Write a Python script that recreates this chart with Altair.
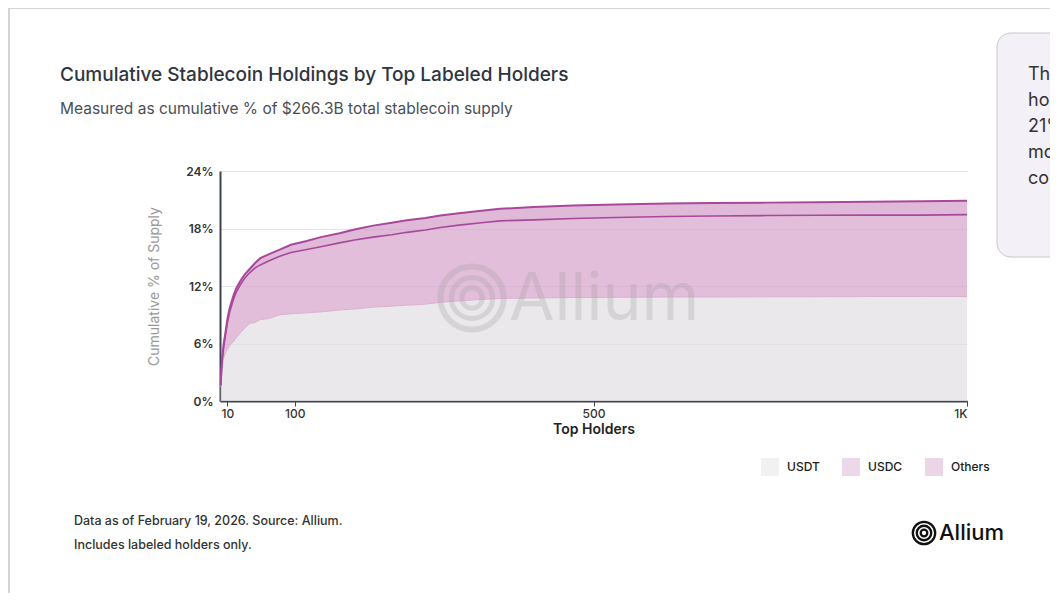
import altair as alt
import pandas as pd

# ---------------- data ----------------
holders = [1, 2, 3, 5, 7, 10, 13, 18, 22, 27, 33, 40, 47, 54, 65, 80, 95, 116, 135,
           160, 180, 205, 230, 250, 275, 295, 320, 350, 375, 420, 473, 530, 598, 660,
           732, 800, 870, 940, 1000]
# cumulative % of supply (stack boundaries)
usdt_top = [1.5, 2.6, 3.6, 4.5, 5.0, 5.4, 5.8, 6.2, 6.6, 7.1, 7.6, 8.1, 8.2, 8.5, 8.6,
            9.0, 9.1, 9.2, 9.3, 9.5, 9.6, 9.8, 9.9, 10.0, 10.1, 10.3, 10.45, 10.6, 10.7,
            10.75, 10.8, 10.82, 10.85, 10.86, 10.87, 10.88, 10.9, 10.9, 10.9]
usdc_top = [1.6, 3.3, 4.3, 5.7, 6.7, 8.2, 9.3, 10.6, 11.4, 12.1, 12.8, 13.4, 13.9, 14.2,
            14.6, 15.1, 15.5, 15.8, 16.1, 16.5, 16.8, 17.1, 17.35, 17.6, 17.85, 18.1,
            18.35, 18.6, 18.8, 18.9, 19.05, 19.15, 19.25, 19.3, 19.35, 19.38, 19.4,
            19.4, 19.45]
others_top = [1.7, 3.5, 4.6, 6.0, 7.0, 8.6, 9.7, 11.0, 11.8, 12.5, 13.2, 13.8, 14.4,
              14.9, 15.3, 15.8, 16.3, 16.7, 17.1, 17.5, 17.9, 18.3, 18.6, 18.85, 19.1,
              19.35, 19.6, 19.85, 20.05, 20.25, 20.4, 20.5, 20.6, 20.65, 20.7, 20.75,
              20.8, 20.85, 20.9]

coins = ["USDT", "USDC", "Others"]
x_ticks = [10, 100, 500, 1000]
y_ticks = [0, 6, 12, 18, 24]

title_text = "Cumulative Stablecoin Holdings by Top Labeled Holders"
subtitle_text = "Measured as cumulative % of $266.3B total stablecoin supply"
foot1 = "Data as of February 19, 2026. Source: Allium."
foot2 = "Includes labeled holders only."
callout_lines = ["Th", "ho", "21%", "mo", "co"]

# ---------------- table ----------------
rows = []
zeros = [0.0] * len(holders)
bounds = {"USDT": (zeros, usdt_top), "USDC": (usdt_top, usdc_top), "Others": (usdc_top, others_top)}
for coin in coins:
    lo, hi = bounds[coin]
    for h, a, b in zip(holders, lo, hi):
        rows.append({"holders": h, "coin": coin, "lo": a, "hi": b})
df = pd.DataFrame(rows)

FONT = "Inter"
W, H = 747, 230

fill_scale = alt.Scale(domain=coins, range=["#e3e0e3", "#d8a8cf", "#d6a2cc"])
line_style = {"USDT": ("#d9b2d2", 1.0), "USDC": ("#a8489c", 1.6), "Others": ("#a8489c", 2.0)}

x_enc = alt.X("holders:Q", scale=alt.Scale(domain=[0, 1000], nice=False),
              axis=alt.Axis(values=x_ticks, title="Top Holders",
                            labelExpr="datum.value == 1000 ? '1K' : datum.label",
                            grid=False, tickSize=5, tickColor="#3d4350", tickWidth=1,
                            domainColor="#3d4350", domainWidth=2, labelPadding=2,
                            labelFontSize=12, labelColor="#333", labelFont=FONT,
                            labelFontWeight=500, titleFont=FONT, titleFontSize=14,
                            titleFontWeight=600, titleColor="#222", titlePadding=3))
y_scale = alt.Scale(domain=[0, 24], nice=False)

areas = alt.Chart(df).mark_area(opacity=0.75, interpolate="linear").encode(
    x=x_enc,
    y=alt.Y("hi:Q", scale=y_scale,
            axis=alt.Axis(values=y_ticks, title="Cumulative % of Supply",
                          labelExpr="datum.value + '%'", grid=True, gridColor="#e4e4e4",
                          tickSize=0, domainColor="#3d4350", domainWidth=2,
                          labelPadding=7, labelFontSize=12, labelColor="#333",
                          labelFont=FONT, labelFontWeight=600, titleFont=FONT,
                          titleFontSize=14, titleFontWeight=400, titleColor="#999",
                          titlePadding=24)),
    y2="lo:Q",
    fill=alt.Fill("coin:N", scale=fill_scale, sort=coins,
                  legend=alt.Legend(title=None, orient="none", legendX=541, legendY=287,
                                    direction="horizontal", symbolType="square",
                                    symbolSize=324, symbolStrokeWidth=0,
                                    symbolStrokeColor="transparent", symbolOpacity=0.45,
                                    labelOffset=8, columnPadding=22, padding=0,
                                    labelFontSize=12, labelFont=FONT, labelFontWeight=500,
                                    labelColor="#222")),
    order=alt.Order("coin:N"),
)

line_layers = []
for coin in coins:
    col, sw = line_style[coin]
    line_layers.append(
        alt.Chart(df).transform_filter(alt.datum.coin == coin)
        .mark_line(interpolate="linear", color=col, strokeWidth=sw)
        .encode(x="holders:Q", y=alt.Y("hi:Q", scale=y_scale))
    )

one = pd.DataFrame({"a": [0]})


def text(t, x, y, size, color, weight=400, align="left", opacity=1.0, line_height=None,
         font=FONT):
    kw = dict(text=t, fontSize=size, color=color, font=font, fontWeight=weight,
              align=align, baseline="middle", opacity=opacity)
    if line_height is not None:
        kw["lineHeight"] = line_height
    return alt.Chart(one).mark_text(**kw).encode(x=alt.value(x), y=alt.value(y))


def ring(x, y, size, sw, color, opacity=1.0):
    return alt.Chart(one).mark_point(shape="circle", filled=False, size=size,
                                     strokeWidth=sw, color=color, opacity=opacity).encode(
        x=alt.value(x), y=alt.value(y))


# watermark
wm_color = "#9a9a9a"
wm = [ring(252, 127, 4000, 6, wm_color, 0.25), ring(252, 127, 1700, 5, wm_color, 0.25),
      ring(252, 127, 420, 5, wm_color, 0.25),
      text("Allium", 289, 129, 66, wm_color, 400, opacity=0.25)]

# logo
logo = [ring(704, 362, 500, 2.3, "#111"), ring(704, 362, 210, 2.3, "#111"),
        ring(704, 362, 44, 2.3, "#111"),
        text("Allium", 719, 362, 22, "#111", 500)]

# callout box (cut by the right edge)
box = alt.Chart(one).mark_rect(fill="#f4f0f7", stroke="#c8c8c8", strokeWidth=1,
                               cornerRadius=14).encode(
    x=alt.value(777), x2=alt.value(880), y=alt.value(-138), y2=alt.value(86))

# card border
border_v = alt.Chart(one).mark_rule(color="#d4d4d4", strokeWidth=2).encode(
    x=alt.value(-211), y=alt.value(-163), y2=alt.value(430))
border_h = alt.Chart(one).mark_rule(color="#d4d4d4", strokeWidth=2).encode(
    x=alt.value(-212), x2=alt.value(840), y=alt.value(-163))

texts = [
    text(title_text, -160, -96, 19, "#2f3540", 500),
    text(subtitle_text, -160, -62, 15.5, "#4a4f57", 400),
    text(foot1, -146, 350, 12.5, "#333", 500),
    text(foot2, -146, 374, 12.5, "#333", 500),
    text(callout_lines, 808, -96, 18, "#333", 400, line_height=26),
]

chart = alt.layer(
    border_v, border_h, box, areas, *line_layers, *wm, *logo, *texts
).properties(
    width=W, height=H,
    autosize=alt.AutoSizeParams(type="none"),
    padding={"left": 212, "top": 163, "right": 83, "bottom": 192},
    background="white",
).configure_view(stroke=None)

chart.save("out.html", embed_options={"renderer": "svg", "actions": False})
